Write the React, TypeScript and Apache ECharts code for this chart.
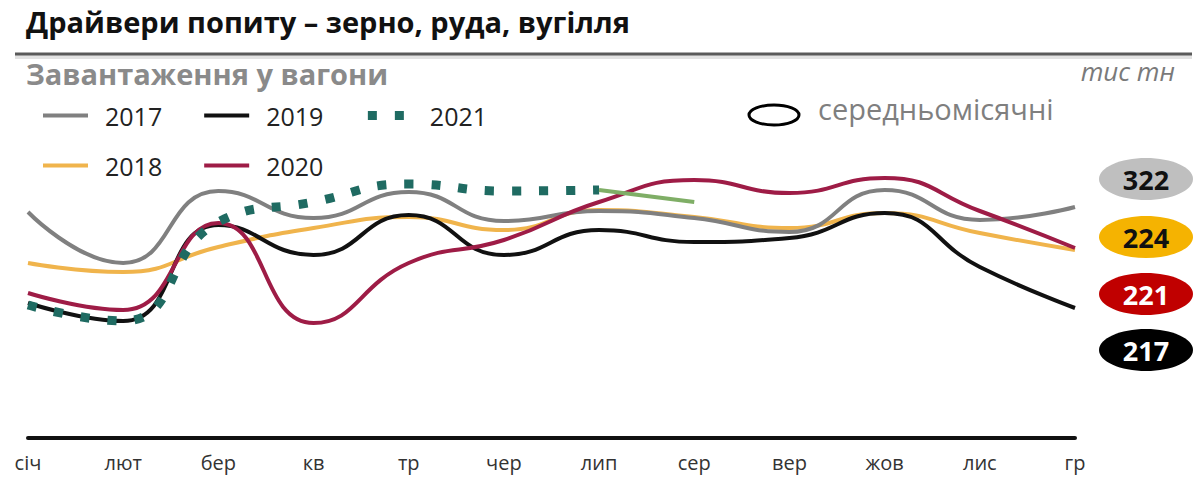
import React, { useEffect, useRef } from "react";
import * as echarts from "echarts";

const months = ["січ", "лют", "бер", "кв", "тр", "чер", "лип", "сер", "вер", "жов", "лис", "гр"];
const y2017 = [226, 175, 247, 220, 246, 217, 227, 220, 206, 248, 218, 231];
const y2018 = [175, 166, 191, 210, 221, 208, 228, 221, 210, 225, 205, 188];
const y2019 = [135, 117, 213, 183, 223, 183, 208, 196, 200, 225, 171, 130];
const y2020 = [145, 128, 215, 115, 175, 198, 236, 258, 245, 260, 227, 190];
const y2021 = [133, 117, 216, 236, 254, 247, 248, null, null, null, null, null];
const y2021f = [null, null, null, null, null, null, 248, 236, null, null, null, null];
const avgLabels = ["322", "224", "221", "217"];

const FONT = "'Open Sans', 'Noto Sans', sans-serif";

export default function App() {
  const ref = useRef<HTMLDivElement>(null);
  useEffect(() => {
    if (!ref.current) return;
    const chart = echarts.init(ref.current, null, { renderer: "svg" });
    const mk = (name: string, data: any[], color: string, width: number, type: any = "solid", z = 2) => ({
      name,
      type: "line",
      data,
      smooth: 0.5,
      symbol: "none",
      z,
      lineStyle: { color, width, type, cap: "butt" },
      itemStyle: { color },
    });
    const avgStyles = [
      { bg: "#bfbfbf", fg: "#111", cy: 179 },
      { bg: "#f5b301", fg: "#111", cy: 237 },
      { bg: "#c00000", fg: "#fff", cy: 294 },
      { bg: "#000000", fg: "#fff", cy: 350 },
    ];
    const graphics: any[] = [
      {
        type: "text",
        left: 26,
        top: 7,
        style: { text: "Драйвери попиту – зерно, руда, вугілля", font: `bold 29px ${FONT}`, fill: "#111" },
      },
      { type: "line", shape: { x1: 15, y1: 57, x2: 1192, y2: 57 }, style: { stroke: "#e2e2e2", lineWidth: 4 } },
      { type: "line", shape: { x1: 15, y1: 54, x2: 1192, y2: 54 }, style: { stroke: "#5a5a5a", lineWidth: 3 } },
      {
        type: "text",
        left: 26,
        top: 59,
        style: { text: "Завантаження у вагони", font: `bold 29px ${FONT}`, fill: "#8a8a8a" },
      },
      {
        type: "text",
        right: 22,
        top: 58,
        style: { text: "тис тн", font: `italic 26px ${FONT}`, fill: "#7a7a7a" },
      },
      {
        type: "ellipse",
        shape: { cx: 774, cy: 115, rx: 25, ry: 10 },
        style: { fill: "none", stroke: "#000", lineWidth: 3 },
      },
      {
        type: "text",
        left: 818,
        top: 94,
        style: { text: "середньомісячні", font: `29px ${FONT}`, fill: "#7f7f7f" },
      },
    ];
    avgLabels.forEach((t, i) => {
      const s = avgStyles[i];
      graphics.push({
        type: "ellipse",
        shape: { cx: 1146, cy: s.cy, rx: 47, ry: 21 },
        style: { fill: s.bg },
      });
      graphics.push({
        type: "text",
        x: 1146,
        y: s.cy,
        style: { text: t, font: `bold 27px ${FONT}`, fill: s.fg, align: "center", verticalAlign: "middle" },
      });
    });

    const legendBase = {
      orient: "horizontal",
      itemWidth: 45,
      itemHeight: 14,
      itemGap: 40,
      selectedMode: false,
      lineStyle: { width: "inherit" },
      itemStyle: { opacity: 0 },
      textStyle: { fontSize: 25, fontFamily: FONT, color: "#222", padding: [0, 0, 0, 12] },
    };

    chart.setOption({
      animation: false,
      backgroundColor: "#ffffff",
      graphic: graphics,
      legend: [
        { ...legendBase, left: 36, top: 98, data: ["2017", "2019", "2021"] },
        { ...legendBase, left: 36, top: 148, data: ["2018", "2020"] },
      ],
      grid: { left: 28, right: 122, top: 138, bottom: 42 },
      xAxis: {
        type: "category",
        data: months,
        boundaryGap: false,
        axisLine: { lineStyle: { color: "#111", width: 4 } },
        axisTick: { show: false },
        axisLabel: { fontSize: 20, fontFamily: FONT, color: "#333", margin: 14 },
      },
      yAxis: { type: "value", min: 0, max: 300, show: false },
      series: [
        mk("2018", y2018, "#f0b44c", 4, "solid", 2),
        mk("2017", y2017, "#808080", 4, "solid", 3),
        mk("2019", y2019, "#111111", 4, "solid", 4),
        mk("2020", y2020, "#9e1c46", 4, "solid", 5),
        mk("2021", y2021, "#1f6b62", 9, [9, 18], 6),
        { ...mk("прогноз", y2021f, "#7fae66", 4, "solid", 6) },
      ],
    });
    return () => chart.dispose();
  }, []);
  return <div ref={ref} style={{ position: "absolute", left: 0, top: 0, width: 1197, height: 480 }} />;
}
